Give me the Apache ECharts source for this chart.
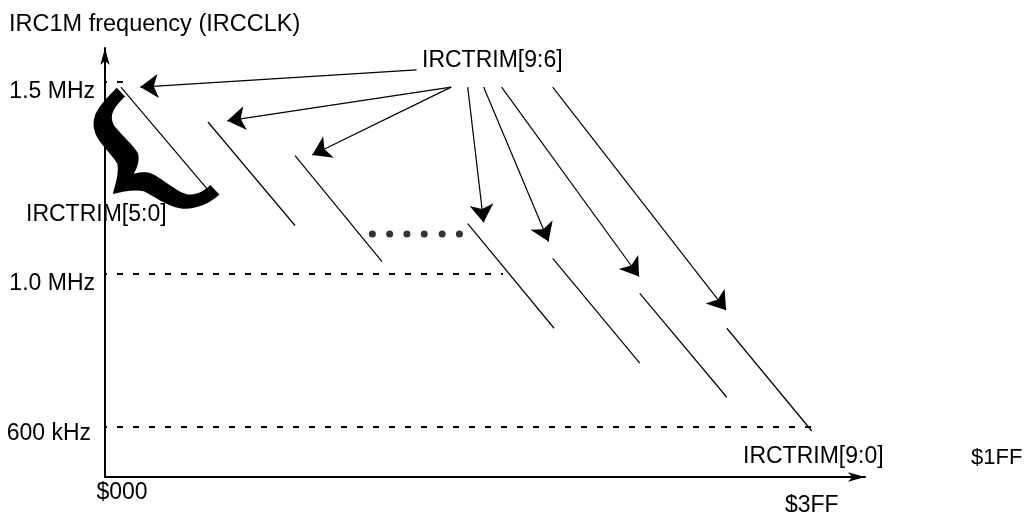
<!DOCTYPE html>
<html>
<head>
<meta charset="utf-8">
<script src="https://cdn.jsdelivr.net/npm/echarts@6/dist/echarts.min.js"></script>
<style>
  html, body { margin: 0; padding: 0; background: #fff; }
  #chart { width: 1026px; height: 512px; }
</style>
</head>
<body>
<div id="chart"></div>
<script>
// IRC1M frequency vs IRCTRIM code (schematic)
const xTickValues = [0, 1023];
const xTickLabels = ['$000', '$3FF'];
const yTickValues = [600, 1000, 1500];
const yTickLabels = ['600 kHz', '1.0 MHz', '1.5 MHz'];

// IRCTRIM[5:0] ramps, one per IRCTRIM[9:6] step (x = trim code, y = kHz)
const segX0 = [23, 149, 275, 525, 648, 774, 900];
const segY0 = [1487, 1396, 1308, 1131, 1040, 949, 858];
const segX1 = [149, 275, 401, 650, 774, 900, 1023];
const segY1 = [1219, 1126, 1032, 858, 767, 678, 590];

// dashed level lines
const guideY = [1500, 1000, 600];
const guideXEnd = [26, 576, 1023];

// the dots between the ramps
const dotX = [387, 412, 437, 462, 488, 513];
const dotY = [1104, 1104, 1104, 1104, 1104, 1104];

// arrows from the IRCTRIM[9:6] label
const arrowX0 = [451, 501, 501, 525, 548, 574, 648];
const arrowY0 = [1532, 1487, 1487, 1487, 1487, 1487, 1487];
const arrowX1 = [51, 177, 300, 548, 642, 773, 899];
const arrowY1 = [1487, 1399, 1310, 1134, 1084, 993, 905];

// brace over the first ramp: [x0, y0, x1, y1]
const brace = [[23, 1474, 159, 1219]];

const FONT = "'Liberation Sans', Arial, sans-serif";

const chart = echarts.init(document.getElementById('chart'));

// brace outline drawn in a local frame (u along the brace, v toward its tip)
function renderBrace(params, api) {
  const a = api.coord([api.value(0), api.value(1)]);
  const b = api.coord([api.value(2), api.value(3)]);
  const dx = b[0] - a[0], dy = b[1] - a[1];
  const L = Math.hypot(dx, dy);
  const ux = dx / L, uy = dy / L;
  const nx = -uy, ny = ux;
  const k = L / 135;
  const P = (u, v) => (a[0] + (u * ux + v * nx) * k).toFixed(1) + ' ' +
                      (a[1] + (u * uy + v * ny) * k).toFixed(1);
  const C = (p1, p2, p3) => 'C' + P(...p1) + ' ' + P(...p2) + ' ' + P(...p3);
  const d = 'M' + P(-6, 0) +
    // upper arm, outer edge down to the tip
    C([-6, 15], [-4.5, 27], [-1.5, 34]) +
    C([2.5, 42], [9, 47], [20, 49]) +
    C([32, 50.5], [42, 50], [49, 52]) +
    C([57, 57], [62, 67], [67.5, 76]) +
    // lower arm, outer edge to the far end
    C([73, 67], [79, 57], [87, 52]) +
    C([97, 48], [112, 46.5], [124, 38]) +
    C([134, 31], [141.5, 15], [141.5, 0]) +
    'L' + P(128.5, 0) +
    // lower arm, inner edge back to the notch
    C([128.5, 13], [124, 22], [113, 26]) +
    C([100, 29.5], [88, 31], [80, 34]) +
    C([74, 37], [70, 42], [67.5, 47]) +
    // upper arm, inner edge back to the start
    C([66, 41], [62, 33.5], [56, 30]) +
    C([46, 27.5], [32, 29.5], [20, 28]) +
    C([9, 25], [6, 18], [6, 0]) + 'Z';
  return {
    type: 'path',
    shape: { pathData: d },
    style: { fill: '#000', stroke: 'none' }
  };
}

const label = (text, x, y, size) => ({
  type: 'text',
  z: 5,
  style: {
    text: text, x: x, y: y, font: (size || 23) + 'px ' + FONT,
    fill: '#000', align: 'left', verticalAlign: 'middle'
  }
});

chart.setOption({
  animation: false,
  backgroundColor: '#fff',
  grid: { left: 105, top: 48, right: 161, bottom: 35, containLabel: false, outerBoundsMode: 'none' },
  xAxis: {
    type: 'value',
    min: 0,
    max: 1100,
    axisLine: {
      show: true, onZero: false,
      symbol: ['none', 'arrow'], symbolSize: [7, 17],
      lineStyle: { color: '#000', width: 2 }
    },
    axisTick: { show: false },
    splitLine: { show: false },
    axisLabel: {
      customValues: xTickValues,
      margin: 4,
      verticalAlign: 'top',
      formatter: (v) => {
        const i = xTickValues.indexOf(v);
        return (i === 0 ? '{a|' : '{b|') + xTickLabels[i] + '}';
      },
      rich: {
        a: { fontSize: 23, fontFamily: FONT, color: '#000', padding: [0, 0, 0, 34] },
        b: { fontSize: 23, fontFamily: FONT, color: '#000', padding: [13, 0, 0, 0] }
      }
    }
  },
  yAxis: {
    type: 'value',
    min: 470,
    max: 1589,
    axisLine: {
      show: true, onZero: false,
      symbol: ['none', 'arrow'], symbolSize: [7, 17],
      lineStyle: { color: '#000', width: 2 }
    },
    axisTick: { show: false },
    splitLine: { show: false },
    axisLabel: {
      customValues: yTickValues,
      margin: 10,
      formatter: (v) => {
        const i = yTickValues.indexOf(v);
        return '{y' + i + '|' + yTickLabels[i] + '}';
      },
      rich: {
        y0: { fontSize: 23, fontFamily: FONT, color: '#000', padding: [12, 4, 0, 0] },
        y1: { fontSize: 23, fontFamily: FONT, color: '#000', padding: [20, 0, 0, 0] },
        y2: { fontSize: 23, fontFamily: FONT, color: '#000', padding: [19, 0, 0, 0] }
      }
    }
  },
  graphic: [
    label('IRC1M frequency (IRCCLK)', 9, 25, 23.5),
    label('IRCTRIM[9:6]', 422, 61),
    label('IRCTRIM[5:0]', 26, 215),
    label('IRCTRIM[9:0]', 743, 457),
    label('$1FF', 971, 458, 22)
  ],
  series: [
    {
      name: 'levels',
      type: 'lines',
      coordinateSystem: 'cartesian2d',
      z: 2,
      lineStyle: { color: '#000', width: 2, type: [6, 10], dashOffset: 4, opacity: 1 },
      data: guideY.map((y, i) => ({ coords: [[0, y], [guideXEnd[i], y]] }))
    },
    {
      name: 'ramps',
      type: 'lines',
      coordinateSystem: 'cartesian2d',
      z: 3,
      lineStyle: { color: '#000', width: 1.2, opacity: 1 },
      data: segX0.map((x, i) => ({ coords: [[x, segY0[i]], [segX1[i], segY1[i]]] }))
    },
    {
      name: 'arrows',
      type: 'lines',
      coordinateSystem: 'cartesian2d',
      z: 3,
      symbol: ['none', 'arrow'],
      symbolSize: [9, 18],
      lineStyle: { color: '#000', width: 1.2, opacity: 1 },
      data: arrowX0.map((x, i) => ({ coords: [[x, arrowY0[i]], [arrowX1[i], arrowY1[i]]] }))
    },
    {
      name: 'dots',
      type: 'scatter',
      z: 3,
      symbol: 'circle',
      symbolSize: 7,
      itemStyle: { color: '#000' },
      data: dotX.map((x, i) => [x, dotY[i]])
    },
    {
      name: 'brace',
      type: 'custom',
      z: 4,
      renderItem: renderBrace,
      encode: { x: [0, 2], y: [1, 3] },
      data: brace
    }
  ]
});
</script>
</body>
</html>
